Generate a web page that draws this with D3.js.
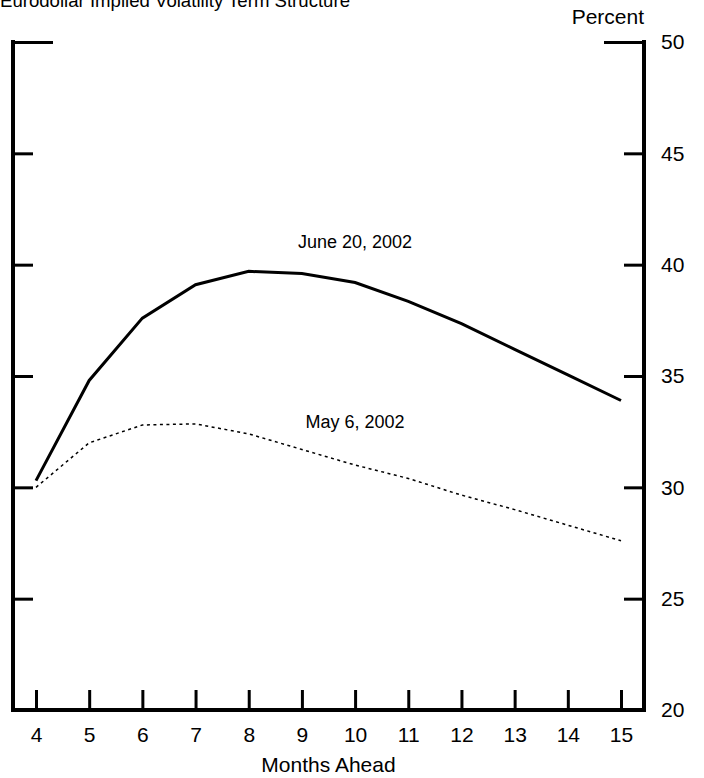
<!DOCTYPE html>
<html lang="en">
<head>
    <meta charset="UTF-8">
    <title>Eurodollar Implied Volatility Term Structure</title>
    <script src="https://cdn.jsdelivr.net/npm/d3@7"></script>
    <style>
        body {
            margin: 0;
            background-color: white;
        }

        svg {
            display: block;
            font-family: "Liberation Sans", Arial, sans-serif;
        }

        .tick text {
            font-size: 21px;
            fill: #000;
        }
    </style>
</head>
<body>
    <script>
        // data
        const months = [4, 5, 6, 7, 8, 9, 10, 11, 12, 13, 14, 15];
        const june20 = [30.3, 34.8, 37.6, 39.1, 39.7, 39.6, 39.2, 38.35, 37.35, 36.2, 35.05, 33.9];
        const may6 = [30.0, 32.0, 32.8, 32.85, 32.4, 31.7, 31.0, 30.4, 29.65, 29.0, 28.3, 27.6];
        const yTicks = [20, 25, 30, 35, 40, 45, 50];

        const w = 704;
        const h = 778;
        const pLeft = 13, pRight = 644, pTop = 42, pBottom = 710;

        const svg = d3.select('body')
            .append('svg')
            .attr('width', w)
            .attr('height', h);

        const x = d3.scaleLinear().domain([4, 15]).range([36, 621]);
        const y = d3.scaleLinear().domain([20, 50]).range([pBottom, pTop]);

        // title, sitting right at the top edge like the original
        svg.append('text')
            .attr('x', 0)
            .attr('y', 7)
            .attr('font-size', 18.6)
            .text('Eurodollar Implied Volatility Term Structure');

        // left ticks (inside)
        const gl = svg.append('g')
            .attr('transform', `translate(${pLeft},0)`)
            .call(d3.axisRight(y).tickValues(yTicks.slice(1)).tickSize(20).tickFormat(''));
        // right ticks (inside)
        const gr = svg.append('g')
            .attr('transform', `translate(${pRight},0)`)
            .call(d3.axisLeft(y).tickValues(yTicks.slice(1)).tickSize(20).tickFormat(''));
        // right labels
        svg.append('g')
            .attr('transform', `translate(${pRight},0)`)
            .call(d3.axisRight(y).tickValues(yTicks).tickSize(0).tickPadding(17));

        [gl, gr].forEach(g => {
            g.selectAll('line').attr('stroke', '#000').attr('stroke-width', 3);
            g.selectAll('.tick').filter(d => d === 50).select('line')
                .attr('x2', function() { return +d3.select(this).attr('x2') * 2; });
        });

        // bottom ticks and labels
        const gb = svg.append('g')
            .attr('transform', `translate(0,${pBottom})`)
            .call(d3.axisTop(x).tickValues(months).tickSize(20).tickFormat(''));
        gb.selectAll('line').attr('stroke', '#000').attr('stroke-width', 3);
        svg.append('g')
            .attr('transform', `translate(0,${pBottom})`)
            .call(d3.axisBottom(x).tickValues(months).tickSize(0).tickPadding(17));

        svg.selectAll('.domain').remove();

        // frame
        svg.append('path')
            .attr('d', `M${pLeft},${pTop - 2} V${pBottom} H${pRight} V${pTop - 2}`)
            .attr('fill', 'none')
            .attr('stroke', '#000')
            .attr('stroke-width', 4);

        const line = d3.line()
            .x((d, i) => x(months[i]))
            .y(d => y(d));

        svg.append('path')
            .datum(may6)
            .attr('d', line)
            .attr('fill', 'none')
            .attr('stroke', '#000')
            .attr('stroke-width', 1.5)
            .attr('stroke-dasharray', '3,3.5');

        svg.append('path')
            .datum(june20)
            .attr('d', line)
            .attr('fill', 'none')
            .attr('stroke', '#000')
            .attr('stroke-width', 3);

        // series labels
        svg.append('text')
            .attr('x', 355)
            .attr('y', 248)
            .attr('text-anchor', 'middle')
            .attr('font-size', 18)
            .text('June 20, 2002');

        svg.append('text')
            .attr('x', 355)
            .attr('y', 428)
            .attr('text-anchor', 'middle')
            .attr('font-size', 18)
            .text('May 6, 2002');

        // axis titles
        svg.append('text')
            .attr('x', pRight)
            .attr('y', 24)
            .attr('text-anchor', 'end')
            .attr('font-size', 21)
            .text('Percent');

        svg.append('text')
            .attr('x', (36 + 621) / 2)
            .attr('y', 772)
            .attr('text-anchor', 'middle')
            .attr('font-size', 21)
            .text('Months Ahead');
    </script>
</body>
</html>
